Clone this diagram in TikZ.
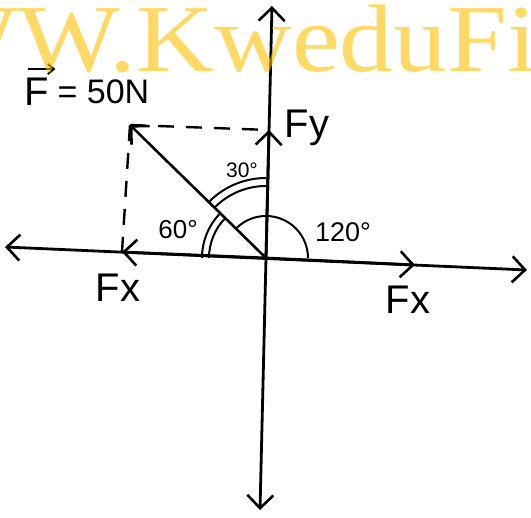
\documentclass[tikz,border=0pt]{standalone}
\usepackage{fontspec}
\setsansfont{Liberation Sans}
\newfontfamily\wmfont{Liberation Serif}
\usetikzlibrary{arrows.meta,positioning}
\definecolor{wmyellow}{RGB}{255,192,0}

\begin{document}
\begin{tikzpicture}[x=1pt,y=-1pt,
  barb/.tip={Straight Barb[length=13pt,width=26pt,line width=2.6pt]},
  axis/.style={line width=2.8pt,barb-barb},
  comp/.style={line width=2.8pt,-barb},
  force/.style={line width=2.6pt,-barb},
  proj/.style={line width=2.4pt,dash pattern=on 16pt off 12pt},
  angarc/.style={line width=2pt},
  lbl/.style={font=\sffamily\fontsize{#1}{#1}\selectfont,inner sep=0pt}]
  \useasboundingbox (0,0) rectangle (531,518);
  \coordinate (O) at (266,258);
  \coordinate (top) at (272,6);
  \coordinate (bot) at (260,510);
  \coordinate (lft) at (5,247);
  \coordinate (rgt) at (527,270);
  \coordinate (tip) at (130,125);
  \coordinate (Fy) at (269,130);
  \coordinate (Fxl) at (122,252);
  \coordinate (Fxr) at (415,265);

  \draw[axis] (bot) -- (top);
  \draw[axis] (lft) -- (rgt);
  \draw[comp] (O) -- (Fxr);
  \draw[comp] (O) -- (Fxl);
  \draw[comp] (O) -- (Fy);
  \draw[force] (O) -- (tip);
  \draw[proj] (tip) -- (Fy);
  \draw[proj] (tip) -- (Fxl);

  \foreach \r in {80,72}
    \draw[angarc] ([shift={(-90:\r)}]O) arc[start angle=-90,end angle=-135,radius=\r];
  \foreach \r in {64,57}
    \draw[angarc] ([shift={(-135:\r)}]O) arc[start angle=-135,end angle=-180,radius=\r];
  \draw[angarc] ([shift={(-135:42)}]O) arc[start angle=-135,end angle=0,radius=42];

  \node[lbl=40] (Fvec) at (37,92) {F};
  \node[lbl=34,right=8pt of Fvec.east,anchor=west] (Fval) {= 50N};
  \draw[line width=2pt,-{Straight Barb[length=6pt,width=10pt,line width=2pt]}]
    ([xshift=3pt,yshift=9pt]Fvec.north west) -- ([xshift=6pt,yshift=9pt]Fvec.north east);
  \node[lbl=40] (lFy) at (307,128) {Fy};
  \node[lbl=21] (l30) at (242,170) {30°};
  \node[lbl=26] (l60) at (178,230) {60°};
  \node[lbl=27] (l120) at (343,232) {120°};
  \node[lbl=40] (lFxl) at (118,288) {Fx};
  \node[lbl=40] (lFxr) at (408,300) {Fx};

  \begin{scope}
    \clip (0,0) rectangle (531,518);
    \node[anchor=base west,inner sep=0pt,text=wmyellow,opacity=0.6,xscale=1.12,transform shape,
      font=\wmfont\fontsize{96}{96}\selectfont] (wm) at (-185,72) {WWW.KweduFiles};
  \end{scope}
\end{tikzpicture}
\end{document}
